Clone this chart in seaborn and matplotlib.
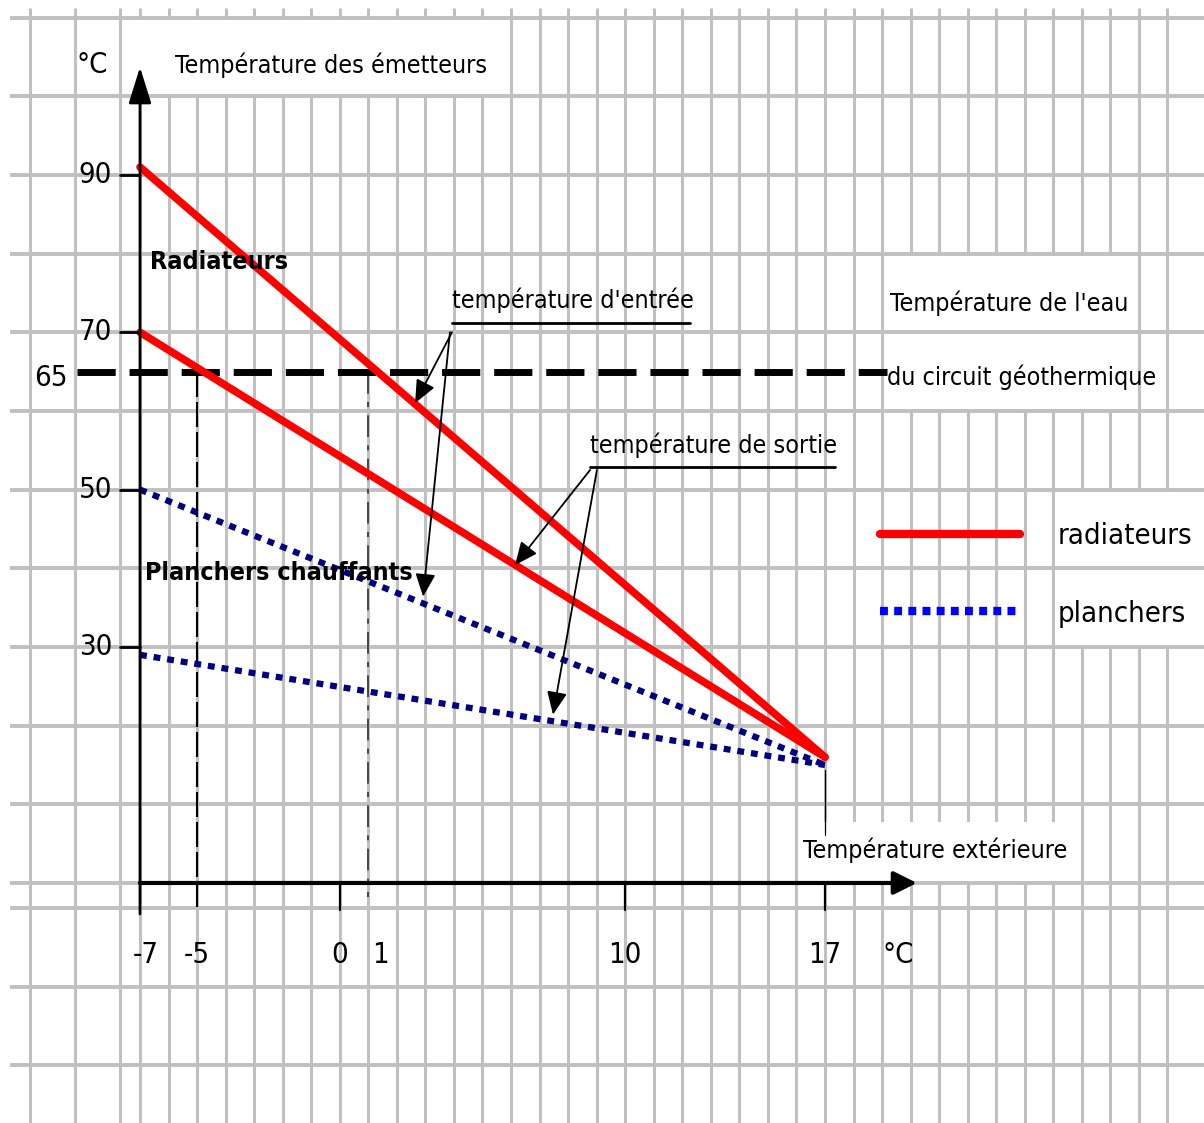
import matplotlib
matplotlib.use("Agg")
import matplotlib.pyplot as plt
from matplotlib import font_manager
from matplotlib.lines import Line2D
from matplotlib.patches import Rectangle
import seaborn as sns

# outdoor temperature (x) and emitter temperatures (y), in °C
x_ext = [-7, 17]
rad_entree = [91, 16]
rad_sortie = [70, 16]
pl_entree = [50, 15]
pl_sortie = [29, 15]

geo_temp = 65
x_ticks = [-7, -5, 0, 1, 10, 17]
x_tick_labels = ["-7", "-5", "0", "1", "10", "17"]
y_ticks = [90, 70, 50, 30]
y_tick_labels = ["90", "70", "50", "30"]

sns.set_style("white")

# narrow font like the original drawing
names = {f.name for f in font_manager.fontManager.ttflist}
if "Liberation Sans Narrow" in names:
    FAM = ["Liberation Sans Narrow", "DejaVu Sans"]
    STRETCH = "normal"
else:
    FAM = ["DejaVu Sans", "Liberation Sans"]
    STRETCH = "condensed"
plt.rcParams["font.family"] = FAM
plt.rcParams["font.stretch"] = STRETCH
plt.rcParams["text.color"] = "black"

FS = 18      # annotation text
FS_TICK = 21

fig = plt.figure(figsize=(12.04, 11.23), dpi=100)
ax = fig.add_axes([0, 0, 1, 1])
ax.set_xlim(-11.905, 30.28)
ax.set_ylim(-30.51, 112.24)
ax.axis("off")

GRID = "#c0c0c0"

# squared paper: vertical lines first
vx = list(range(-7, 30)) + [-7.7, -9.28, -10.85]
ax.vlines(vx, -31, 111.2, color=GRID, lw=2.2, zorder=1)

# white boxes behind text (they hide the vertical lines only)
for (x0, x1, y0, y1) in [(-7.53, 5.79, 99.9, 109.95),
                         (19.10, 27.86, 60.12, 79.83),
                         (25.06, 29.79, 30.25, 49.70),
                         (16.30, 25.76, 0.13, 7.75)]:
    ax.add_patch(Rectangle((x0, y0), x1 - x0, y1 - y0, facecolor="white",
                           edgecolor="none", zorder=2))

hy = list(range(0, 111, 10)) + [-3.2, -13.2, -23.2]
ax.hlines(hy, -11.55, 31, color=GRID, lw=2.8, zorder=3)

# axes with arrows
ax.annotate("", xy=(-7, 103.7), xytext=(-7, -3.94),
            arrowprops=dict(arrowstyle="-|>,head_length=0.8,head_width=0.25",
                            mutation_scale=28, lw=2, color="black",
                            shrinkA=0, shrinkB=0), zorder=6)
ax.annotate("", xy=(20.22, 0), xytext=(-7, 0),
            arrowprops=dict(arrowstyle="-|>,head_length=0.5,head_width=0.25",
                            mutation_scale=28, lw=3, color="black",
                            shrinkA=0, shrinkB=0), zorder=6)

# ticks
for yt in y_ticks:
    ax.plot([-7.7, -7], [yt, yt], color="black", lw=2, zorder=6)
for xt in [0, 10, 17]:
    ax.plot([xt, xt], [0, -3.43], color="black", lw=1.6, zorder=6)
ax.plot([17, 17], [6.1, 14.4], color="black", lw=0.9, zorder=6)

# tick labels
for xt, lab in zip(x_ticks, x_tick_labels):
    xpos = {"-7": -6.8, "1": 1.41}.get(lab, xt)
    ax.text(xpos, -9.15, lab, fontsize=FS_TICK, ha="center", va="center", zorder=7)
ax.text(19.56, -9.15, "°C", fontsize=FS_TICK, ha="center", va="center", zorder=7)
for yt, lab in zip(y_ticks, y_tick_labels):
    ax.text(-7.98, yt, lab, fontsize=FS_TICK, ha="right", va="center", zorder=7)
ax.text(-9.52, geo_temp - 0.8, "65", fontsize=FS_TICK, ha="right", va="center", zorder=7)

# geothermal water temperature and reading lines
ax.plot([-9.21, 19.17], [geo_temp, geo_temp], color="black", lw=5,
        dashes=(5.5, 2), zorder=5)
ax.plot([-5, -5], [geo_temp, -3.18], color="black", lw=1.5,
        dashes=(12, 2.4), zorder=4)
ax.plot([0.99, 0.99], [geo_temp, -1.78], color="#333333", lw=1.2,
        dashes=(13, 5, 3, 5), zorder=4)

# emitter curves
sns.lineplot(x=x_ext, y=rad_entree, ax=ax, color="#ff0000", lw=5.5, zorder=5)
sns.lineplot(x=x_ext, y=rad_sortie, ax=ax, color="#ff0000", lw=5.5, zorder=5)
sns.lineplot(x=x_ext, y=pl_entree, ax=ax, color="#000080", lw=4.5,
             dashes=False, linestyle=(0, (1.1, 1.1)), zorder=5)
sns.lineplot(x=x_ext, y=pl_sortie, ax=ax, color="#000080", lw=4.5,
             dashes=False, linestyle=(0, (1.1, 1.1)), zorder=5)

# texts
ax.text(-8.68, 104, "°C", fontsize=FS_TICK, ha="center", va="center", zorder=7)
ax.text(-5.77, 104, "Température des émetteurs", fontsize=FS, va="center", zorder=7)
ax.text(-6.65, 78.9, "Radiateurs", fontsize=FS, fontweight="bold",
        va="center", zorder=7)
ax.text(-6.82, 39.4, "Planchers chauffants", fontsize=FS, fontweight="bold",
        va="center", zorder=7)
ax.text(19.28, 73.7, "Température de l'eau", fontsize=FS, va="center", zorder=7)
ax.text(19.17, 64.3, "du circuit géothermique", fontsize=FS, va="center", zorder=7)
ax.text(16.23, 4.2, "Température extérieure", fontsize=FS, va="center", zorder=7)

ax.text(3.93, 74.1, "température d'entrée", fontsize=FS, va="center", zorder=7)
ax.plot([3.93, 12.27], [71.2, 71.2], color="black", lw=2, zorder=7)
ax.text(8.77, 55.7, "température de sortie", fontsize=FS, va="center", zorder=7)
ax.plot([8.77, 17.35], [52.9, 52.9], color="black", lw=2, zorder=7)

arrow_kw = dict(arrowstyle="-|>,head_length=0.5,head_width=0.22",
                mutation_scale=28, lw=1.3, color="black", shrinkA=0, shrinkB=0)
for start, tip in [((3.93, 70.0), (2.64, 61.0)),
                   ((3.86, 70.0), (2.92, 36.4)),
                   ((8.77, 52.5), (6.14, 40.4)),
                   ((9.01, 52.5), (7.47, 21.4))]:
    ax.annotate("", xy=tip, xytext=start, arrowprops=arrow_kw, zorder=8)

# legend
handles = [Line2D([], [], color="#ff0000", lw=6),
           Line2D([], [], color="#0000ff", lw=6, linestyle=(0, (0.95, 0.75)))]
leg = ax.legend(handles, ["radiateurs", "planchers"], loc="upper left",
                bbox_to_anchor=(880 / 1204, 1 - 522 / 1123),
                bbox_transform=fig.transFigure, frameon=False, fontsize=21,
                handlelength=4.8, handletextpad=1.3, labelspacing=1.7,
                borderpad=0, borderaxespad=0)
leg.set_zorder(9)

fig.savefig("out.png", dpi=100, facecolor="white")
